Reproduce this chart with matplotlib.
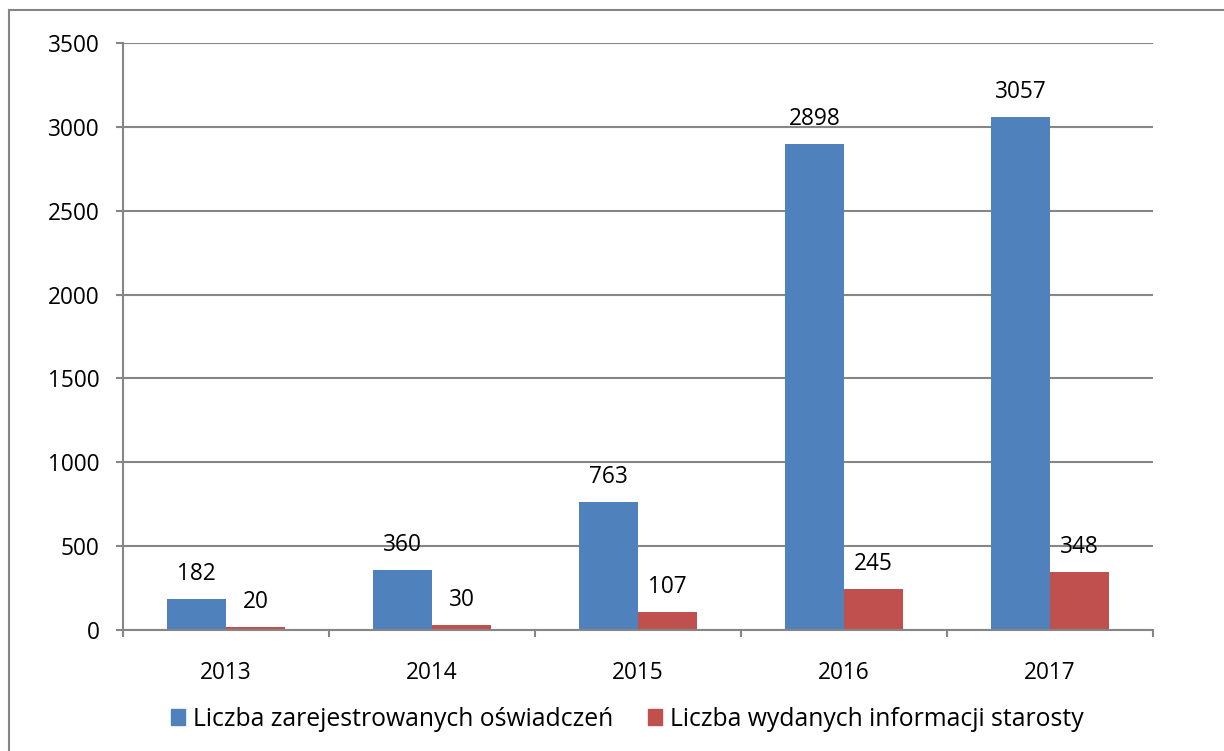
import numpy as np
import matplotlib
matplotlib.use("Agg")
import matplotlib.pyplot as plt
from matplotlib.lines import Line2D
from matplotlib.patches import Patch

plt.rcParams['font.family'] = ['Open Sans', 'DejaVu Sans']

years = ['2013', '2014', '2015', '2016', '2017']
oswiadczenia = [182, 360, 763, 2898, 3057]
informacje = [20, 30, 107, 245, 348]
series_names = ['Liczba zarejestrowanych oświadczeń', 'Liczba wydanych informacji starosty']

blue = '#4F81BD'
red = '#C0504D'
grid_col = '#868686'
fs = 16.3

W, H = 1224, 751
fig = plt.figure(figsize=(W / 100, H / 100), dpi=100)
ax = fig.add_axes([123 / W, (H - 630) / H, 1030 / W, 587 / H])

x = np.arange(len(years))
bw = 0.286
b1 = ax.bar(x - bw / 2, oswiadczenia, bw, color=blue, edgecolor='none')
b2 = ax.bar(x + bw / 2, informacje, bw, color=red, edgecolor='none')

for bars, vals in [(b1, oswiadczenia), (b2, informacje)]:
    for r, v in zip(bars, vals):
        ax.annotate(str(v), (r.get_x() + r.get_width() / 2, v),
                    xytext=(0, 25), textcoords='offset pixels',
                    ha='center', va='center', fontsize=fs)

ax.set_xlim(-0.5, len(years) - 0.5)
ax.set_ylim(0, 3500)
ax.set_yticks(np.arange(0, 3501, 500))
ax.yaxis.grid(True, color=grid_col, linewidth=1.5)
ax.set_axisbelow(True)

ax.set_xticks(x)
ax.set_xticklabels(years)
ax.set_xticks(np.arange(-0.5, len(years), 1), minor=True)
ax.tick_params(axis='x', which='major', length=0, pad=22, labelsize=fs)
ax.tick_params(axis='x', which='minor', length=5, width=1.5, color=grid_col)
ax.tick_params(axis='y', length=5, width=1.5, color=grid_col, pad=12, labelsize=fs)

for s in ['top', 'right']:
    ax.spines[s].set_visible(False)
for s in ['left', 'bottom']:
    ax.spines[s].set_color(grid_col)
    ax.spines[s].set_linewidth(1.5)

handles = [Patch(color=blue), Patch(color=red)]
fig.legend(handles, series_names, loc='center', bbox_to_anchor=(627 / W, 1 - 719 / H),
           ncol=2, frameon=False, fontsize=17.8, handlelength=0.6, handleheight=0.6,
           handletextpad=0.3, columnspacing=1.4)

fig.add_artist(Line2D([9 / W, 9 / W], [0, 1 - 10 / H], color=grid_col, linewidth=1.5))
fig.add_artist(Line2D([9 / W, 1], [1 - 10 / H, 1 - 10 / H], color=grid_col, linewidth=1.5))

fig.savefig('out.png', dpi=100)
